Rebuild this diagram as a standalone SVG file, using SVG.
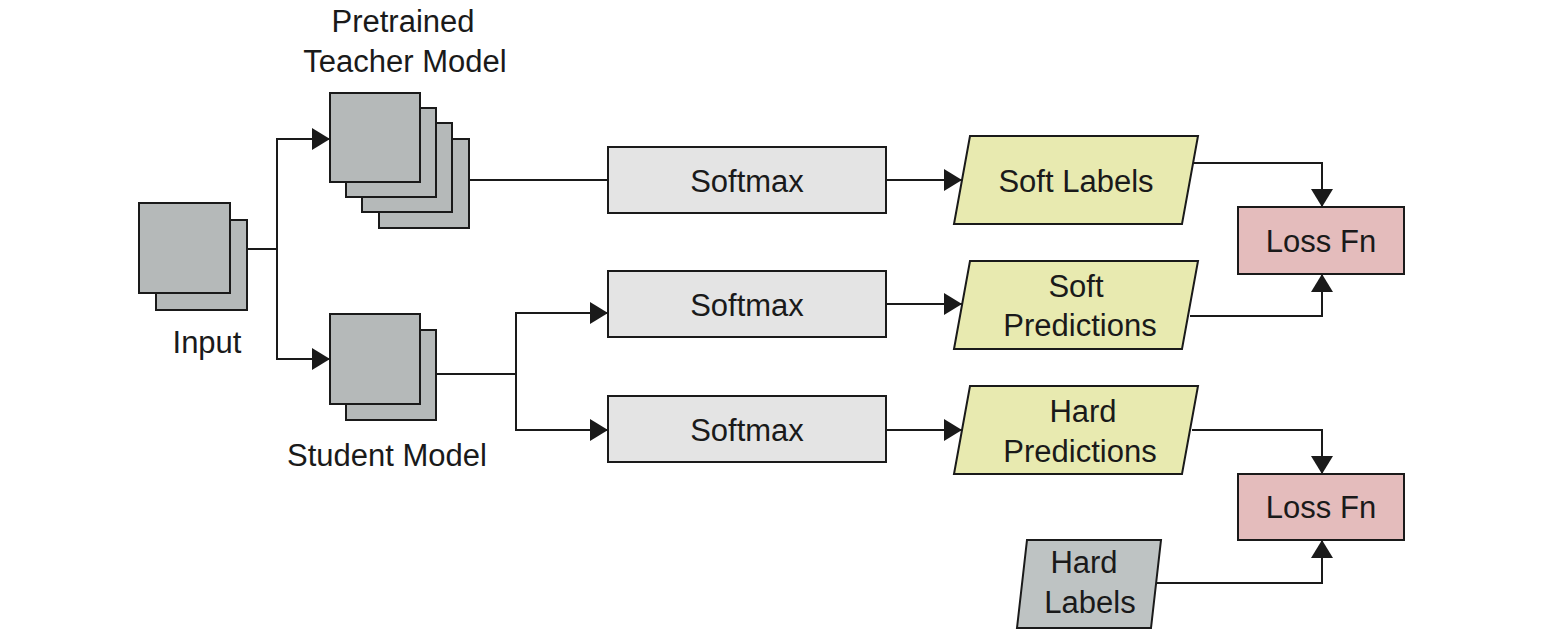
<svg xmlns="http://www.w3.org/2000/svg" width="1542" height="633" viewBox="0 0 1542 633">
<defs>
<marker id="arr" markerUnits="userSpaceOnUse" markerWidth="18" markerHeight="22" refX="18" refY="11" orient="auto">
<path d="M0,0 L18,11 L0,22 z" fill="#1a1a1a"/>
</marker>
</defs>
<style>
.sq{fill:#b5b9b9;stroke:#1a1a1a;stroke-width:2}
.sm{fill:#e4e4e4;stroke:#1a1a1a;stroke-width:2}
.yl{fill:#e8eab0;stroke:#1a1a1a;stroke-width:2}
.ls{fill:#e4bcbc;stroke:#1a1a1a;stroke-width:2}
.hl{fill:#bec3c3;stroke:#1a1a1a;stroke-width:2}
.c{fill:none;stroke:#1a1a1a;stroke-width:2}
text{font-family:"Liberation Sans",Arial,sans-serif;font-size:31px;fill:#1a1a1a;text-anchor:middle}
</style>
<rect width="1542" height="633" fill="#ffffff"/>
<g id="connectors">
<path class="c" d="M247,249 H277 V139 H330" marker-end="url(#arr)"/>
<path class="c" d="M277,249 V359 H330" marker-end="url(#arr)"/>
<path class="c" d="M469,180 H608"/>
<path class="c" d="M886,180 H962" marker-end="url(#arr)"/>
<path class="c" d="M436,374 H516 V313 H608" marker-end="url(#arr)"/>
<path class="c" d="M516,374 V430 H608" marker-end="url(#arr)"/>
<path class="c" d="M886,304 H962" marker-end="url(#arr)"/>
<path class="c" d="M886,430 H962" marker-end="url(#arr)"/>
<path class="c" d="M1194,163 H1322 V207" marker-end="url(#arr)"/>
<path class="c" d="M1190,316 H1322 V274" marker-end="url(#arr)"/>
<path class="c" d="M1192,430 H1322 V474" marker-end="url(#arr)"/>
<path class="c" d="M1153,583 H1322 V540" marker-end="url(#arr)"/>
</g>
<g id="input">
<rect class="sq" x="156" y="220" width="91" height="90"/>
<rect class="sq" x="139" y="203" width="91" height="90"/>
<text x="207" y="353">Input</text>
</g>
<g id="teacher">
<rect class="sq" x="379" y="139" width="90" height="89"/>
<rect class="sq" x="362" y="123" width="90" height="89"/>
<rect class="sq" x="346" y="108" width="90" height="89"/>
<rect class="sq" x="330" y="93" width="90" height="89"/>
<text x="403" y="32">Pretrained</text>
<text x="405" y="72">Teacher Model</text>
</g>
<g id="student">
<rect class="sq" x="346" y="330" width="90" height="90"/>
<rect class="sq" x="330" y="314" width="90" height="90"/>
<text x="387" y="466">Student Model</text>
</g>
<g id="softmax1">
<rect class="sm" x="608" y="147" width="278" height="66"/>
<text x="747" y="192">Softmax</text>
</g>
<g id="softmax2">
<rect class="sm" x="608" y="271" width="278" height="66"/>
<text x="747" y="316">Softmax</text>
</g>
<g id="softmax3">
<rect class="sm" x="608" y="396" width="278" height="66"/>
<text x="747" y="441">Softmax</text>
</g>
<g id="softlabels">
<polygon class="yl" points="970,136 1198,136 1182,224 954,224"/>
<text x="1076" y="192">Soft Labels</text>
</g>
<g id="softpredictions">
<polygon class="yl" points="970,261 1198,261 1182,349 954,349"/>
<text x="1076" y="297">Soft</text>
<text x="1080" y="336">Predictions</text>
</g>
<g id="hardpredictions">
<polygon class="yl" points="970,386 1198,386 1182,474 954,474"/>
<text x="1083" y="422">Hard</text>
<text x="1080" y="462">Predictions</text>
</g>
<g id="lossfn1">
<rect class="ls" x="1238" y="207" width="166" height="67"/>
<text x="1321" y="252">Loss Fn</text>
</g>
<g id="lossfn2">
<rect class="ls" x="1238" y="474" width="166" height="66"/>
<text x="1321" y="518">Loss Fn</text>
</g>
<g id="hardlabels">
<polygon class="hl" points="1027,540 1161,540 1151,628 1017,628"/>
<text x="1084" y="573">Hard</text>
<text x="1090" y="613">Labels</text>
</g>
</svg>
